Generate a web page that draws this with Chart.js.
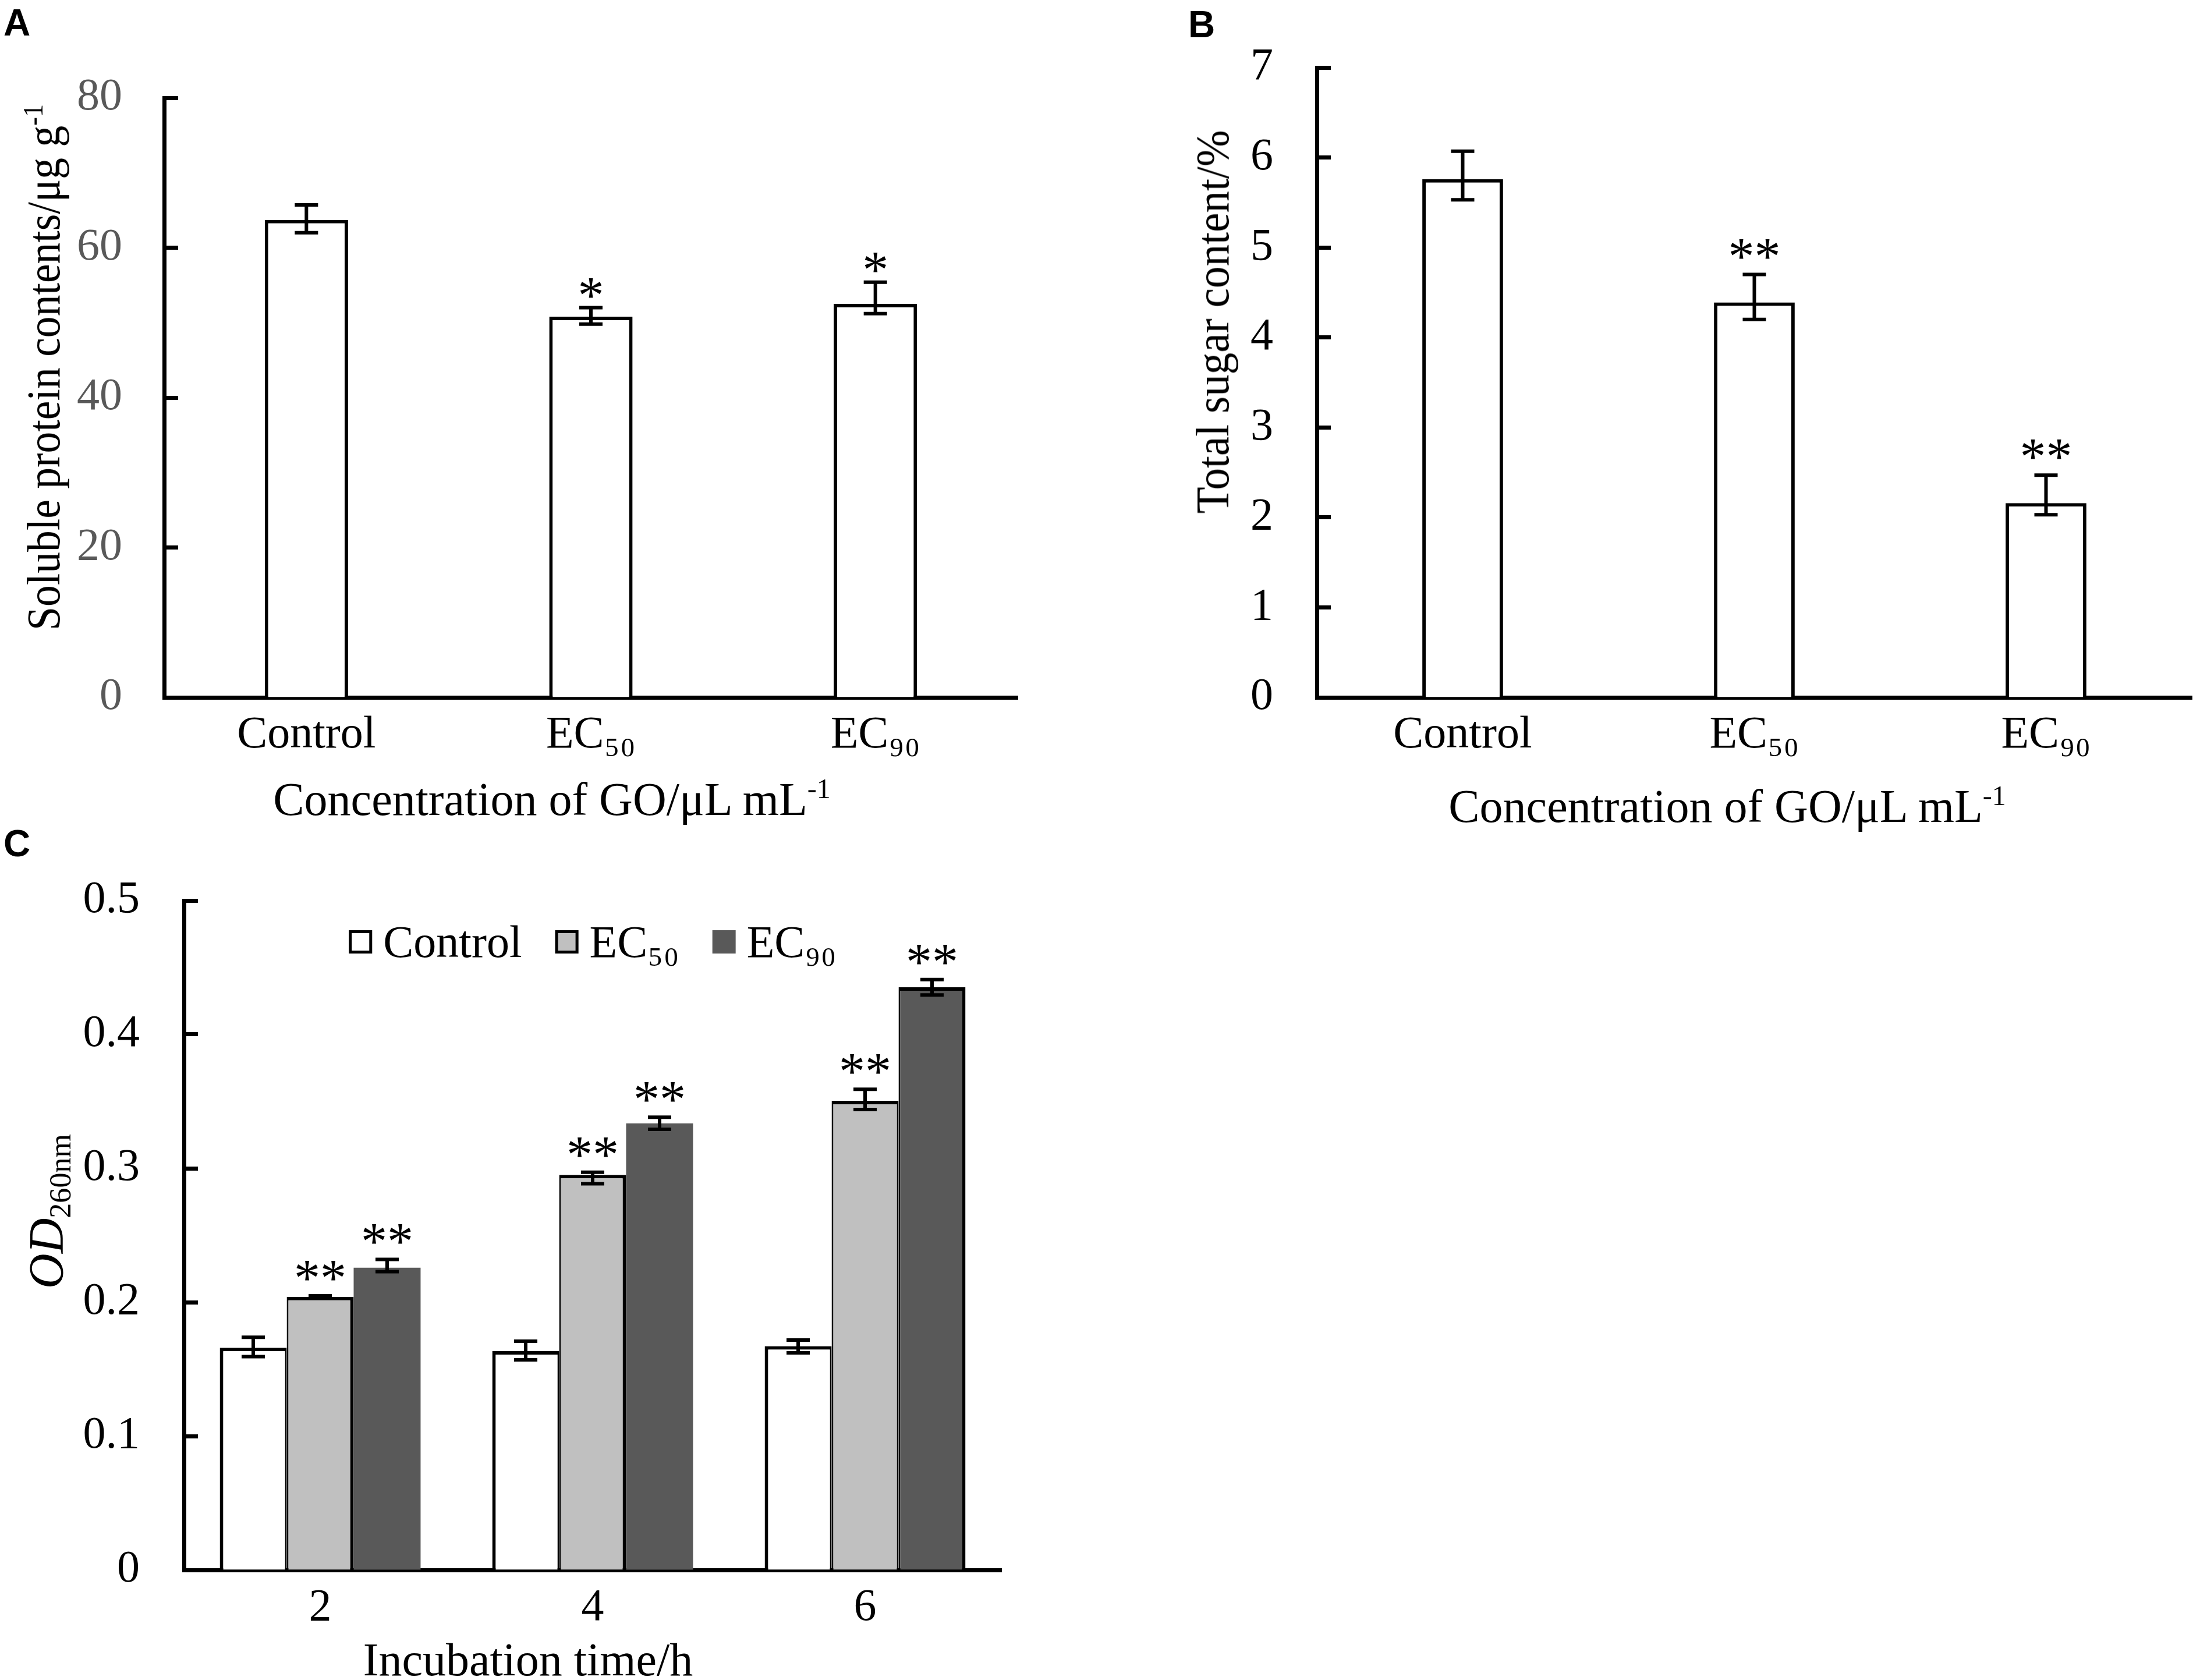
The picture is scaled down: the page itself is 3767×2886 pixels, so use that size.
<!DOCTYPE html>
<html>
<head>
<meta charset="utf-8">
<script src="https://cdn.jsdelivr.net/npm/chart.js@4.4.1/dist/chart.umd.min.js"></script>
<style>
  body { margin: 0; background: #fff; }
  #page { position: relative; width: 3767px; height: 2886px; overflow: hidden; background: #fff;
          font-family: "Liberation Serif", "Times New Roman", serif; color: #000; }
  canvas { position: absolute; }
  .letter { position: absolute; font: bold 64px "Liberation Sans", Arial, sans-serif; line-height: 1; }
  .xtitle { position: absolute; font-size: 80px; line-height: 1; white-space: nowrap; transform: translateX(-50%); }
  .ytitle { position: absolute; font-size: 80px; line-height: 1; white-space: nowrap;
            transform: translate(-50%, -50%) rotate(-90deg); }
  .xtitle sup, .ytitle sup { font-size: 0.6em; vertical-align: 0.6em; line-height: 0; }
  .ytitle sub { font-size: 0.62em; vertical-align: -0.25em; line-height: 0; }
</style>
</head>
<body>
<div id="page">
  <div class="letter" style="left:6px; top:7px;">A</div>
  <div class="letter" style="left:2041px; top:10px;">B</div>
  <div class="letter" style="left:6px; top:1417px;">C</div>

  <canvas id="chartA" width="1800" height="1460" style="left:0; top:0;"></canvas>
  <canvas id="chartB" width="1867" height="1460" style="left:1900px; top:0;"></canvas>
  <canvas id="chartC" width="1800" height="1446" style="left:0; top:1440px;"></canvas>

  <div class="ytitle" style="left:75px; top:631px; transform: translate(-50%, -50%) rotate(-90deg) scaleX(0.92);">Soluble protein contents/μg g<sup>-1</sup></div>
  <div class="xtitle" style="left:948px; top:1333px;">Concentration of GO/μL mL<sup>-1</sup></div>

  <div class="ytitle" style="left:2083px; top:553px; transform: translate(-50%, -50%) rotate(-90deg) scaleX(0.94);">Total sugar content/%</div>
  <div class="xtitle" style="left:2967px; top:1345px;">Concentration of GO/μL mL<sup>-1</sup></div>

  <div class="ytitle" style="left:80px; top:2081px; font-size:84px;"><i>OD</i><sub>260nm</sub></div>
  <div class="xtitle" style="left:907px; top:2811px;">Incubation time/h</div>
</div>

<script>
// ---------- data ----------
// A: soluble protein
const treatments = ['Control', 'EC₅₀', 'EC₉₀'];
const proteinMean = [63.7, 50.8, 52.5];
const proteinErrUp = [2.0, 1.2, 2.9];
const proteinErrDown = [1.7, 1.0, 1.3];
const proteinStars = ['', '*', '*'];

// B: total sugar
const sugarMean = [5.76, 4.39, 2.16];
const sugarErrUp = [0.31, 0.31, 0.31];
const sugarErrDown = [0.23, 0.19, 0.13];
const sugarStars = ['', '**', '**'];

// C: OD260 over incubation time
const hours = ['2', '4', '6'];
const odControl = [0.166, 0.1635, 0.1672];
const odControlUp = [0.0078, 0.0074, 0.0045];
const odControlDown = [0.0066, 0.0065, 0.005];
const odEC50 = [0.204, 0.2951, 0.3504];
const odEC50Up = [0.0008, 0.002, 0.0086];
const odEC50Down = [0.0008, 0.0066, 0.0065];
const odEC90 = [0.2258, 0.3336, 0.4352];
const odEC90Up = [0.0062, 0.0045, 0.0058];
const odEC90Down = [0.003, 0.0045, 0.0057];
const odStars = ['**', '**', '**'];

const serif = '"Liberation Serif", "Times New Roman", serif';

// error bars + significance stars, drawn from the dataset values
const errorBars = {
  id: 'errorBars',
  afterDatasetsDraw(chart, args, opts) {
    const ctx = chart.ctx;
    const y = chart.scales.y;
    ctx.save();
    chart.data.datasets.forEach((ds, di) => {
      const meta = chart.getDatasetMeta(di);
      meta.data.forEach((bar, i) => {
        const v = ds.data[i];
        const top = y.getPixelForValue(v + ds.errUp[i]);
        const bot = y.getPixelForValue(v - ds.errDown[i]);
        const half = opts.capWidth / 2;
        ctx.strokeStyle = '#000';
        ctx.lineWidth = opts.lineWidth;
        ctx.beginPath();
        ctx.moveTo(bar.x, top);
        ctx.lineTo(bar.x, bot);
        ctx.moveTo(bar.x - half, top);
        ctx.lineTo(bar.x + half, top);
        ctx.moveTo(bar.x - half, bot);
        ctx.lineTo(bar.x + half, bot);
        ctx.stroke();
        if (ds.stars && ds.stars[i]) {
          ctx.fillStyle = '#000';
          ctx.font = opts.starSize + 'px ' + serif;
          ctx.textAlign = 'center';
          ctx.textBaseline = 'alphabetic';
          ctx.fillText(ds.stars[i], bar.x, top - opts.starOffset + opts.starSize * 0.5);
        }
      });
    });
    ctx.restore();
  }
};

// legend drawn inside the plot area, centred at the top
const insideLegend = {
  id: 'insideLegend',
  afterDraw(chart, args, opts) {
    if (!opts.display) return;
    const ctx = chart.ctx;
    const area = chart.chartArea;
    ctx.save();
    ctx.font = opts.fontSize + 'px ' + serif;
    const items = chart.data.datasets.map(ds => ({
      text: ds.label, fill: ds.backgroundColor, stroke: ds.legendStroke,
      w: ctx.measureText(ds.label).width
    }));
    let total = 0;
    items.forEach((it, i) => { total += opts.box + opts.gap + it.w + (i ? opts.itemGap : 0); });
    let x = (area.left + area.right) / 2 - total / 2;
    const boxTop = area.top + opts.offsetY;
    items.forEach(it => {
      ctx.fillStyle = it.fill;
      ctx.fillRect(x, boxTop, opts.box, opts.box);
      if (it.stroke) {
        ctx.strokeStyle = it.stroke;
        ctx.lineWidth = opts.boxLine;
        ctx.strokeRect(x + opts.boxLine / 2, boxTop + opts.boxLine / 2, opts.box - opts.boxLine, opts.box - opts.boxLine);
      }
      ctx.fillStyle = '#000';
      ctx.textAlign = 'left';
      ctx.textBaseline = 'alphabetic';
      ctx.fillText(it.text, x + opts.box + opts.gap, boxTop + opts.textDrop);
      x += opts.box + opts.gap + it.w + opts.itemGap;
    });
    ctx.restore();
  }
};

function yAxis(max, step, color, width, pad) {
  return {
    min: 0,
    max: max,
    ticks: { stepSize: step, color: color, padding: pad, font: { family: serif, size: 78 } },
    grid: { display: true, drawOnChartArea: false, drawTicks: true, tickLength: -24, tickWidth: 7, tickColor: '#000' },
    border: { display: true, color: '#000', width: 7 },
    afterFit(scale) {
      scale.width = width;
      // the large label padding should not push the plot area down
      scale.paddingTop = 0;
      scale.paddingBottom = 0;
    }
  };
}

function xAxis(height) {
  return {
    ticks: { color: '#000', padding: 19, maxRotation: 0, autoSkip: false, font: { family: serif, size: 78 } },
    grid: { display: true, drawOnChartArea: false, drawTicks: false },
    border: { display: true, color: '#000', width: 7 },
    afterFit(scale) { scale.height = height; }
  };
}

function baseOptions(padding, yOpts, xHeight, errOpts, legendOpts) {
  return {
    responsive: false,
    animation: false,
    devicePixelRatio: 1,
    layout: { padding: padding },
    scales: { x: xAxis(xHeight), y: yOpts },
    plugins: {
      legend: { display: false },
      tooltip: { enabled: false },
      errorBars: errOpts,
      insideLegend: legendOpts || { display: false }
    }
  };
}

// ---------- A ----------
new Chart(document.getElementById('chartA'), {
  type: 'bar',
  data: {
    labels: treatments,
    datasets: [{
      label: 'Soluble protein',
      data: proteinMean,
      errUp: proteinErrUp,
      errDown: proteinErrDown,
      stars: proteinStars,
      backgroundColor: '#fff',
      borderColor: '#000',
      borderWidth: 6,
      categoryPercentage: 1,
      barPercentage: 0.293
    }]
  },
  options: baseOptions({ top: 168, left: 0, right: 52, bottom: 0 },
    yAxis(80, 20, '#595959', 282, 96), 262,
    { capWidth: 40, lineWidth: 6, starSize: 90, starOffset: 36 }),
  plugins: [errorBars, insideLegend]
});

// ---------- B ----------
new Chart(document.getElementById('chartB'), {
  type: 'bar',
  data: {
    labels: treatments,
    datasets: [{
      label: 'Total sugar',
      data: sugarMean,
      errUp: sugarErrUp,
      errDown: sugarErrDown,
      stars: sugarStars,
      backgroundColor: '#fff',
      borderColor: '#000',
      borderWidth: 6,
      categoryPercentage: 1,
      barPercentage: 0.277
    }]
  },
  options: baseOptions({ top: 116, left: 0, right: 2, bottom: 0 },
    yAxis(7, 1, '#000', 362, 99), 262,
    { capWidth: 40, lineWidth: 6, starSize: 90, starOffset: 46 }),
  plugins: [errorBars, insideLegend]
});

// ---------- C ----------
new Chart(document.getElementById('chartC'), {
  type: 'bar',
  data: {
    labels: hours,
    datasets: [
      {
        label: 'Control',
        data: odControl,
        errUp: odControlUp,
        errDown: odControlDown,
        backgroundColor: '#fff',
        borderColor: '#000',
        legendStroke: '#000',
        borderWidth: { top: 6, left: 6, right: 3, bottom: 0 }
      },
      {
        label: 'EC₅₀',
        data: odEC50,
        errUp: odEC50Up,
        errDown: odEC50Down,
        stars: odStars,
        backgroundColor: '#c0c0c0',
        borderColor: '#000',
        legendStroke: '#000',
        borderWidth: (c) => ({ top: 6, left: 3, right: c.dataIndex === 2 ? 3 : 6, bottom: 0 })
      },
      {
        label: 'EC₉₀',
        data: odEC90,
        errUp: odEC90Up,
        errDown: odEC90Down,
        stars: odStars,
        backgroundColor: '#595959',
        borderColor: '#000',
        borderWidth: (c) => (c.dataIndex === 2 ? { top: 6, left: 3, right: 6, bottom: 0 } : 0)
      }
    ]
  },
  options: (() => {
    const o = baseOptions({ top: 107, left: 0, right: 80, bottom: 0 },
      yAxis(0.5, 0.1, '#000', 316, 100), 189,
      { capWidth: 40, lineWidth: 6, starSize: 90, starOffset: 45 },
      { display: true, fontSize: 78, box: 40, gap: 19, itemGap: 57, offsetY: 51, boxLine: 5, textDrop: 46 });
    o.datasets = { bar: { categoryPercentage: 0.737, barPercentage: 1 } };
    return o;
  })(),
  plugins: [errorBars, insideLegend]
});
</script>
</body>
</html>
